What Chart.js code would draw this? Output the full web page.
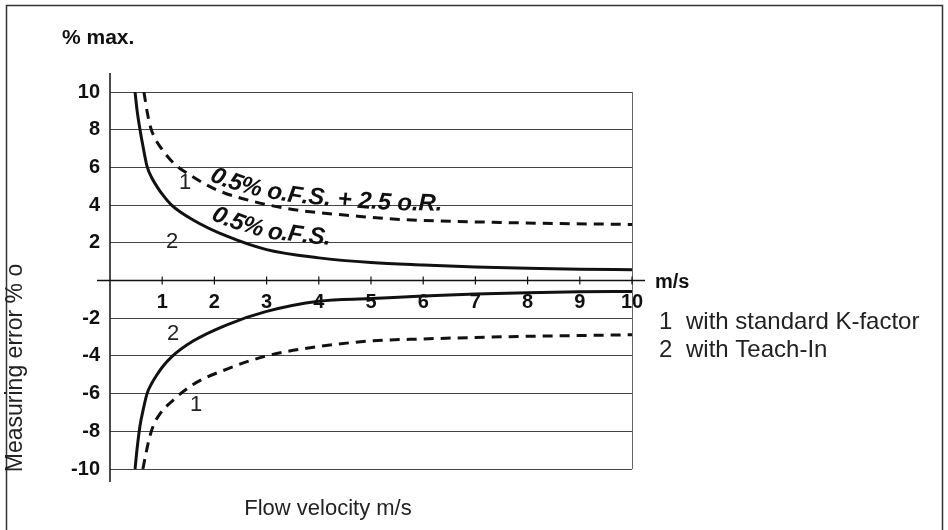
<!DOCTYPE html>
<html>
<head>
<meta charset="utf-8">
<script src="https://cdn.jsdelivr.net/npm/chart.js@4.4.0/dist/chart.umd.min.js"></script>
<style>
  html, body { margin: 0; padding: 0; background: #fff; }
</style>
</head>
<body>
<canvas id="chart" width="948" height="530"></canvas>
<script>
// values (flow velocity in m/s, measuring error in %)
const xTicks = [1, 2, 3, 4, 5, 6, 7, 8, 9, 10];
const yTicks = [-10, -8, -6, -4, -2, 0, 2, 4, 6, 8, 10];

const teachInVel = [0.48, 0.52, 0.575, 0.64, 0.71, 0.8, 0.9, 1.0, 1.18, 1.6, 2.24, 3, 4, 5, 6, 7, 8, 9, 10];
const teachInPos = [10, 9.0, 8.0, 7.0, 6.05, 5.45, 4.98, 4.58, 4.0, 3.2, 2.35, 1.64, 1.2, 0.95, 0.82, 0.72, 0.65, 0.6, 0.57];
const teachInNeg = [-10, -8.9, -7.7, -6.8, -6.0, -5.45, -5.0, -4.6, -4.05, -3.2, -2.35, -1.64, -1.1, -0.96, -0.82, -0.72, -0.65, -0.6, -0.58];

const standardVelPos = [0.65, 0.715, 0.78, 0.86, 0.96, 1.21, 1.53, 2.05, 2.74, 3.5, 4.79, 5.56, 7.47, 10];
const standardPos = [10, 8.9, 8.1, 7.55, 7.1, 6.25, 5.6, 4.8, 4.2, 3.77, 3.4, 3.24, 3.08, 2.97];
const standardVelNeg = [0.63, 0.68, 0.75, 0.83, 0.95, 1.15, 1.6, 2.24, 3, 4, 5.04, 6, 7, 8, 9, 10];
const standardNeg = [-10, -9.3, -8.4, -7.7, -7.1, -6.5, -5.5, -4.7, -4.0, -3.5, -3.2, -3.1, -3.02, -2.96, -2.92, -2.88];

const curveLabels = [
  { text: '1', x: 1.44, y: 5.2 },
  { text: '2', x: 1.19, y: 2.07 },
  { text: '2', x: 1.21, y: -2.86 },
  { text: '1', x: 1.65, y: -6.58 },
];
const legendLines = [['1', 'with standard K-factor'], ['2', 'with Teach-In']];

const FONT = '"Liberation Sans", Arial, sans-serif';

function pairs(xs, ys) {
  return xs.map((v, i) => ({ x: v, y: ys[i] }));
}

function line(data, dashed) {
  return {
    data: data,
    borderColor: '#111',
    borderWidth: 3,
    borderDash: dashed ? [10, 7] : [],
    pointRadius: 0,
    fill: false,
    cubicInterpolationMode: 'monotone',
  };
}

// write text so that it bends along a drawn curve
function textAlong(ctx, text, pts, startX, off0, off1) {
  const cum = [0];
  for (let i = 1; i < pts.length; i++) {
    cum.push(cum[i - 1] + Math.hypot(pts[i].x - pts[i - 1].x, pts[i].y - pts[i - 1].y));
  }
  const at = (s) => {
    s = Math.max(0, Math.min(s, cum[cum.length - 1]));
    let i = 1;
    while (i < cum.length - 1 && cum[i] < s) i++;
    const t = (s - cum[i - 1]) / (cum[i] - cum[i - 1] || 1);
    return { x: pts[i - 1].x + t * (pts[i].x - pts[i - 1].x), y: pts[i - 1].y + t * (pts[i].y - pts[i - 1].y) };
  };
  let s = 0;
  for (let i = 1; i < pts.length; i++) {
    if (pts[i].x >= startX) {
      const t = (startX - pts[i - 1].x) / (pts[i].x - pts[i - 1].x);
      s = cum[i - 1] + t * (cum[i] - cum[i - 1]);
      break;
    }
  }
  const total = ctx.measureText(text).width;
  let run = 0;
  ctx.textAlign = 'center';
  ctx.textBaseline = 'alphabetic';
  for (const ch of text) {
    const w = ctx.measureText(ch).width;
    const c = s + w / 2;
    const p1 = at(c - 22), p2 = at(c + 22);
    const ang = Math.atan2(p2.y - p1.y, p2.x - p1.x);
    const p = at(c);
    const off = off0 + (off1 - off0) * (run + w / 2) / total;
    ctx.save();
    ctx.translate(p.x + Math.sin(ang) * off, p.y - Math.cos(ang) * off);
    ctx.rotate(ang);
    ctx.fillText(ch, 0, 0);
    ctx.restore();
    s += w;
    run += w;
  }
}

const decor = {
  id: 'decor',
  beforeDatasetsDraw(chart) {
    const { ctx, chartArea: a, scales: { x, y } } = chart;
    const y0 = y.getPixelForValue(0);
    ctx.save();
    // outer frame
    ctx.strokeStyle = '#333';
    ctx.lineWidth = 1.5;
    ctx.beginPath();
    ctx.moveTo(6.5, 540); ctx.lineTo(6.5, 5.5); ctx.lineTo(942.5, 5.5); ctx.lineTo(942.5, 540);
    ctx.stroke();
    // right edge of the plot
    ctx.strokeStyle = '#666';
    ctx.lineWidth = 1;
    ctx.beginPath();
    ctx.moveTo(a.right + 0.5, a.top); ctx.lineTo(a.right + 0.5, a.bottom);
    ctx.stroke();
    // axes
    ctx.strokeStyle = '#111';
    ctx.lineWidth = 1.5;
    ctx.beginPath();
    ctx.moveTo(a.left, a.top - 19); ctx.lineTo(a.left, a.bottom + 13);
    ctx.moveTo(a.left - 13, y0); ctx.lineTo(a.right + 13, y0);
    ctx.stroke();
    ctx.lineWidth = 1.2;
    ctx.beginPath();
    xTicks.forEach((v) => {
      const px = x.getPixelForValue(v);
      ctx.moveTo(px, y0 - 4); ctx.lineTo(px, y0 + 4);
    });
    ctx.stroke();
    // x tick labels under the zero line
    ctx.fillStyle = '#111';
    ctx.font = 'bold 20px ' + FONT;
    ctx.textAlign = 'center';
    ctx.textBaseline = 'middle';
    xTicks.forEach((v) => ctx.fillText(String(v), x.getPixelForValue(v), y0 + 22));
    ctx.textAlign = 'left';
    ctx.fillText('m/s', a.right + 23, y0 + 2);
    ctx.font = 'bold 21px ' + FONT;
    ctx.fillText('% max.', 62, 38);
    // plain texts
    ctx.font = '24px ' + FONT;
    ctx.fillStyle = '#222';
    legendLines.forEach((l, i) => {
      ctx.fillText(l[0], 659, 322 + i * 28);
      ctx.fillText(l[1], 686, 322 + i * 28);
    });
    ctx.font = '22px ' + FONT;
    ctx.textAlign = 'center';
    ctx.fillText('Flow velocity m/s', 328, 509);
    ctx.save();
    ctx.translate(16, 368);
    ctx.rotate(-Math.PI / 2);
    ctx.font = '23px ' + FONT;
    ctx.fillText('Measuring error % o', 0, 0);
    ctx.restore();
    ctx.font = '22px ' + FONT;
    curveLabels.forEach((l) => ctx.fillText(l.text, x.getPixelForValue(l.x), y.getPixelForValue(l.y)));
    ctx.restore();
  },
  afterDatasetsDraw(chart) {
    const { ctx } = chart;
    const dashPts = chart.getDatasetMeta(2).data.map((p) => ({ x: p.x, y: p.y }));
    const solidPts = chart.getDatasetMeta(0).data.map((p) => ({ x: p.x, y: p.y }));
    ctx.save();
    ctx.fillStyle = '#111';
    ctx.font = 'italic bold 24px ' + FONT;
    textAlong(ctx, '0.5% o.F.S. + 2.5 o.R.', dashPts, 207, 5, 10);
    textAlong(ctx, '0.5% o.F.S.', solidPts, 207, 8, 14);
    ctx.restore();
  },
};

new Chart(document.getElementById('chart'), {
  type: 'line',
  data: {
    datasets: [
      line(pairs(teachInVel, teachInPos), false),
      line(pairs(teachInVel, teachInNeg), false),
      line(pairs(standardVelPos, standardPos), true),
      line(pairs(standardVelNeg, standardNeg), true),
    ],
  },
  options: {
    responsive: false,
    animation: false,
    layout: { padding: { left: 60, top: 92, right: 316, bottom: 61 } },
    plugins: { legend: { display: false }, tooltip: { enabled: false } },
    scales: {
      x: { type: 'linear', min: 0, max: 10, display: false },
      y: {
        type: 'linear',
        min: -10,
        max: 10,
        afterBuildTicks: (s) => { s.ticks = yTicks.map((v) => ({ value: v })); },
        afterFit: (s) => { s.width = 50; s.paddingTop = 0; s.paddingBottom = 0; },
        ticks: {
          color: '#111',
          padding: 10,
          font: { family: FONT, size: 20, weight: 'bold' },
          callback: (v) => (v === 0 ? '' : String(v)),
        },
        grid: {
          drawTicks: false,
          color: (c) => (c.tick && c.tick.value === 0 ? 'rgba(0,0,0,0)' : '#444'),
          lineWidth: 1,
        },
        border: { display: false },
      },
    },
  },
  plugins: [decor],
});
</script>
</body>
</html>
